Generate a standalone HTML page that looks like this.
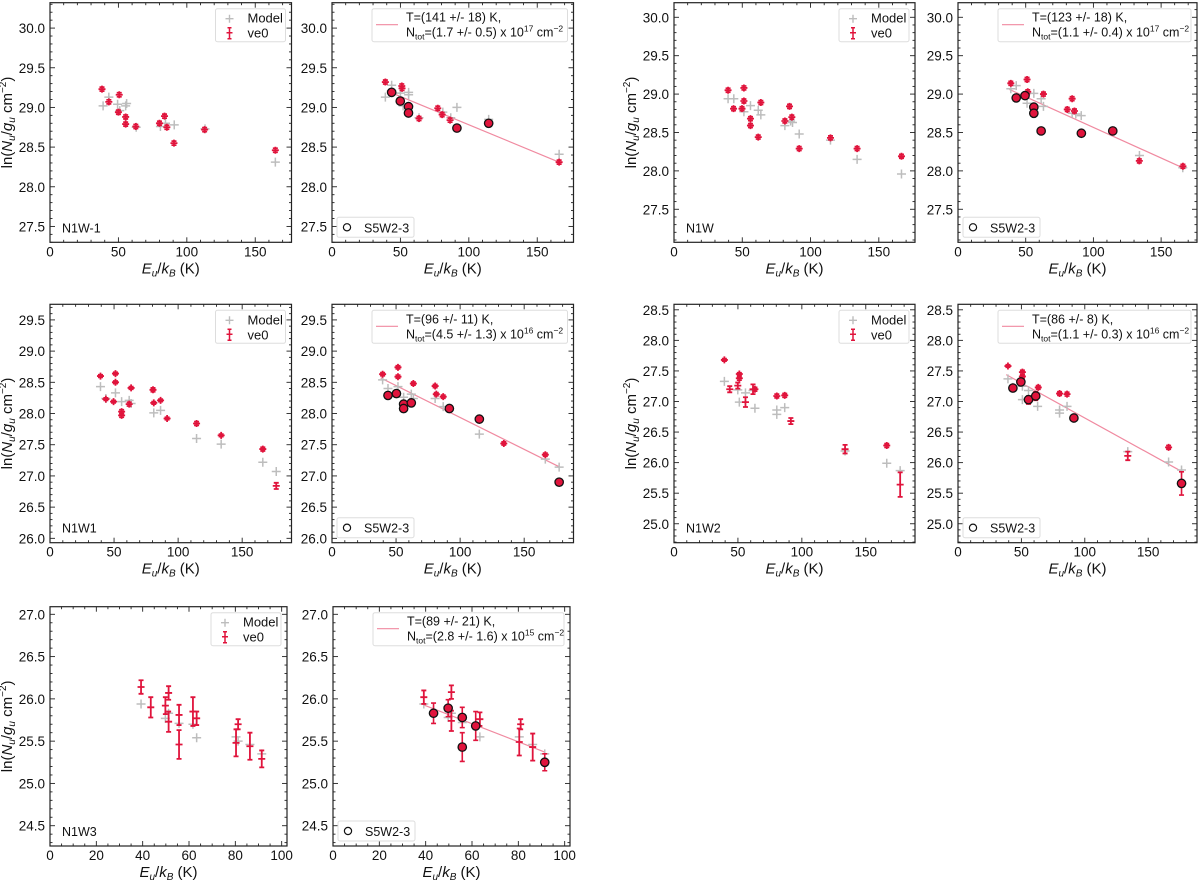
<!DOCTYPE html>
<html><head><meta charset="utf-8"><style>
html,body{margin:0;padding:0;background:#fff;}
svg{display:block;font-family:"Liberation Sans","DejaVu Sans",sans-serif;}
</style></head><body>
<svg id="fig" width="1200" height="880" viewBox="0 0 1200 880" xmlns="http://www.w3.org/2000/svg"></svg>
<script>
// ---------- DATA ----------
const n1w1a_obsE = [38,43,50,50.6,55.3,55.3,62.7,80,83.7,85.4,90.6,113,164.7];
const n1w1a_obsY = [29.23,29.07,28.94,29.16,28.88,28.79,28.76,28.80,28.89,28.75,28.55,28.72,28.46];
const n1w1a_modE = [38.8,43,49.4,51,55.3,56,63,80.7,84.4,90.8,113.3,164.7];
const n1w1a_modY = [29.02,29.13,29.04,28.96,29.02,29.05,28.75,28.76,28.80,28.78,28.73,28.31];
const n1w1b_obsE = [39,51,51.2,63.6,77.3,80.5,86.3,166];
const n1w1b_obsY = [29.32,29.27,29.24,28.86,28.99,28.91,28.84,28.31];
const n1w1b_refE = [43.6,49.9,55.9,55.9,91.3,114.5];
const n1w1b_refY = [29.19,29.08,29.01,28.93,28.74,28.80];
const n1w1b_modE = [39,43.6,50,52,56,56,63.6,81,86.8,91.3,114.5,166];
const n1w1b_modY = [29.13,29.28,29.18,29.02,29.19,29.16,28.87,28.94,28.87,29.00,28.85,28.41];
const n1w1b_fitE = [40,166];
const n1w1b_fitY = [29.21,28.31];
const n1w_obsE = [39.6,43.6,49.8,51.2,51.2,56,56,61.7,63.6,81.2,84.6,86.3,91.7,114.6,134.1,166.6];
const n1w_obsY = [29.05,28.81,28.81,29.08,28.91,28.68,28.59,28.44,28.89,28.65,28.84,28.70,28.29,28.43,28.29,28.19];
const n1w_modE = [39.6,43.8,51.2,56,61.7,63.6,81.2,85.4,86.8,91.7,114.6,134.1,166.6];
const n1w_modY = [28.94,28.94,28.77,28.85,28.79,28.73,28.59,28.65,28.63,28.48,28.40,28.15,27.96];
const n1wb_obsE = [39,51,51.5,63.1,80.7,84.3,86,133.9,166.1];
const n1wb_obsY = [29.14,29.19,29.03,29.00,28.80,28.94,28.78,28.13,28.06];
const n1wb_refE = [43,49.5,56,56,61.4,91.1,114.3];
const n1wb_refY = [28.95,28.98,28.83,28.75,28.52,28.49,28.52];
const n1wb_modE = [39,43,51,56,61.4,63.1,84.3,87,91,134,166];
const n1wb_modY = [29.07,29.11,28.88,29.01,28.94,28.84,28.75,28.74,28.72,28.20,28.04];
const n1wb_fitE = [38,166];
const n1wb_fitY = [29.06,28.04];
const w1a_obsE = [39.4,43.6,49.6,51.1,51.1,55.9,55.9,61.8,63.3,80.4,81,86.3,91.4,114.4,133.6,166.1,176.6];
const w1a_obsY = [28.60,28.23,28.19,28.64,28.50,28.03,27.97,28.15,28.41,28.38,28.17,28.21,27.92,27.84,27.65,27.43,26.84];
const w1a_obsErr = [0.02,0.02,0.02,0.02,0.02,0.03,0.03,0.03,0.02,0.03,0.02,0.02,0.02,0.03,0.02,0.03,0.05];
const w1a_modE = [39.4,43.6,51.1,55.9,61.8,63.3,81,86.3,114.4,133.6,166.1,176.6];
const w1a_modY = [28.43,28.24,28.33,28.19,28.21,28.16,28.01,28.05,27.60,27.51,27.22,27.07];
const w1b_obsE = [39.5,51.5,51.5,63.5,80.5,81.4,86.8,134.1,166.5];
const w1b_obsY = [28.63,28.74,28.59,28.48,28.44,28.31,28.27,27.52,27.34];
const w1b_refE = [43.7,50.3,55.9,55.9,61.9,91.6,115,177.3];
const w1b_refY = [28.29,28.32,28.15,28.08,28.17,28.08,27.91,26.90];
const w1b_modE = [39.5,43.7,51.5,55.9,61.9,63.5,80.5,86.8,115,166.5,177.3];
const w1b_modY = [28.54,28.40,28.43,28.26,28.31,28.24,28.24,28.11,27.67,27.27,27.14];
const w1b_fitE = [38,177];
const w1b_fitY = [28.57,27.15];
const w2a_obsE = [39.4,43.6,49.9,51.1,51.1,55.9,61.8,63.3,80.4,86.6,91.4,133.8,166.4,176.9];
const w2a_obsY = [27.68,27.20,27.26,27.45,27.38,26.99,27.20,27.20,27.09,27.10,26.68,26.22,26.28,25.64];
const w2a_obsErr = [0.02,0.05,0.05,0.02,0.03,0.08,0.08,0.03,0.03,0.03,0.05,0.07,0.03,0.2];
const w2a_modE = [39.4,49.9,51.1,55.9,61.8,63.3,80.4,80.4,86.6,133.8,166.4,176.9];
const w2a_modY = [27.33,27.19,26.99,27.14,27.18,26.89,26.86,26.79,26.90,26.19,25.99,25.87];
const w2b_obsE = [39.4,50.8,50.8,55.6,63.3,80.1,86,133.9,166.1];
const w2b_obsY = [27.58,27.48,27.41,27.02,27.23,27.13,27.12,26.11,26.25];
const w2b_obsErr = [0.02,0.03,0.03,0.06,0.03,0.03,0.03,0.07,0.03];
const w2b_refE = [43.3,49.6,55.6,61.3,91.4,176.3];
const w2b_refY = [27.22,27.32,27.03,27.09,26.73,25.66];
const w2b_refErr = [0.05,0.05,0.06,0.07,0.04,0.19];
const w2b_modE = [39.4,43.3,50.8,50.8,55.6,62.8,80.1,80.1,86,133.9,166.1,176.3];
const w2b_modY = [27.37,27.23,27.25,27.03,27.18,26.92,26.86,26.81,26.92,26.18,26.01,25.88];
const w2b_fitE = [38,176];
const w2b_fitY = [27.44,25.86];
const w3a_obsE = [39.3,43.5,49.8,51.2,51.2,55.7,55.7,61.7,63.3,80.3,81.2,86.3,91.4];
const w3a_obsY = [26.14,25.90,25.92,26.07,25.73,25.81,25.46,25.85,25.77,25.48,25.70,25.44,25.29];
const w3a_obsErr = [0.08,0.12,0.1,0.08,0.12,0.12,0.17,0.17,0.08,0.16,0.06,0.16,0.1];
const w3a_modE = [39.3,49.8,51.2,55.7,61.7,63.3,80.3,81.2,86.3,91.4];
const w3a_modY = [25.94,25.77,25.83,25.71,25.70,25.54,25.55,25.50,25.46,25.35];
const w3b_obsE = [39.2,51.1,51.1,63.4,80.4,81,86.2];
const w3b_obsY = [26.02,26.08,25.74,25.76,25.49,25.70,25.43];
const w3b_obsErr = [0.08,0.08,0.12,0.08,0.16,0.06,0.16];
const w3b_refE = [43.4,49.7,55.8,55.8,61.6,91.4];
const w3b_refY = [25.83,25.89,25.78,25.43,25.68,25.25];
const w3b_refErr = [0.12,0.1,0.12,0.17,0.17,0.1];
const w3b_modE = [39.2,49.7,51.1,55.8,63.4,80.4,86.2,91.4];
const w3b_modY = [25.94,25.78,25.83,25.72,25.55,25.55,25.46,25.35];
const w3b_fitE = [39,91.5];
const w3b_fitY = [25.93,25.37];

const xt1 = [0,50,100,150];
const xt3 = [0,20,40,60,80,100];
const yt1 = [27.5,28.0,28.5,29.0,29.5,30.0];
const yt2a = [26.0,26.5,27.0,27.5,28.0,28.5,29.0,29.5];
const yt2b = [25.0,25.5,26.0,26.5,27.0,27.5,28.0,28.5];
const yt3 = [24.5,25.0,25.5,26.0,26.5,27.0];

// ---------- DRAWING ----------
const NS = 'http://www.w3.org/2000/svg';
const svg = document.getElementById('fig');
const RED = '#e0143c', GRAY = '#bdbdbd', FIT = '#f08aa0';
function mk(tag, attrs, parent){
  const e = document.createElementNS(NS, tag);
  for (const k in attrs) e.setAttribute(k, attrs[k]);
  (parent||svg).appendChild(e);
  return e;
}

function panel(P){
  const g = mk('g', {});
  
  
  const x0=P.r[0], y0=P.r[1], w=P.r[2], h=P.r[3];
  const sx = v => x0 + (v-P.xl[0])/(P.xl[1]-P.xl[0])*w;
  const sy = v => y0 + h - (v-P.yl[0])/(P.yl[1]-P.yl[0])*h;
  const fr = mk('rect', {x:x0,y:y0,width:w,height:h,fill:'none',stroke:'#222','stroke-width':1.2}, g);
  
  
  const tg = mk('g', {stroke:'#222','stroke-width':0.9}, g);
  
  
  for (let v=P.xl[0]; v<=P.xl[1]+1e-9; v+=P.xm){
    const vv = Math.round(v/P.xm)*P.xm; if (vv<P.xl[0]) continue;
    const major = P.xt.some(t=>Math.abs(t-vv)<1e-6);
    const L = major?5:2.5, X=sx(vv);
    mk('line',{x1:X,y1:y0+h,x2:X,y2:y0+h-L},tg);
    mk('line',{x1:X,y1:y0,x2:X,y2:y0+L},tg);
  }
  const ys = Math.ceil(P.yl[0]/0.1-1e-6);
  for (let k=ys; k*0.1<=P.yl[1]+1e-9; k++){
    const vv=k*0.1;
    const major = P.yt.some(t=>Math.abs(t-vv)<1e-6);
    const L = major?5:2.5, Y=sy(vv);
    mk('line',{x1:x0,y1:Y,x2:x0+L,y2:Y},tg);
    mk('line',{x1:x0+w,y1:Y,x2:x0+w-L,y2:Y},tg);
  }
  P.xt.forEach(t=>{
    const e = mk('text',{x:sx(t),y:y0+h+14,'font-size':13.5,'text-anchor':'middle',fill:'#111'},g);
    e.textContent = String(t);
    
    
  });
  P.yt.forEach(t=>{
    const e = mk('text',{x:x0-5,y:sy(t)+5,'font-size':13.5,'text-anchor':'end',fill:'#111'},g);
    e.textContent = t.toFixed(1);
    
    
  });
  const xl = mk('text',{x:x0+w/2,y:y0+h+31,'font-size':15,'text-anchor':'middle',fill:'#111'},g);
  xl.innerHTML = '<tspan font-style="italic">E</tspan><tspan font-style="italic" font-size="10" dy="3">u</tspan><tspan dy="-3">/</tspan><tspan font-style="italic">k</tspan><tspan font-style="italic" font-size="10" dy="3">B</tspan><tspan dy="-3"> (K)</tspan>';
  
  
  if (P.ylab){
    const cx = x0-38, cy = y0+h/2;
    const yl = mk('text',{x:cx,y:cy,'font-size':15,'text-anchor':'middle',fill:'#111',transform:`rotate(-90 ${cx} ${cy})`},g);
    yl.innerHTML = 'ln(<tspan font-style="italic">N</tspan><tspan font-style="italic" font-size="10" dy="3">u</tspan><tspan dy="-3">/</tspan><tspan font-style="italic">g</tspan><tspan font-style="italic" font-size="10" dy="3">u</tspan><tspan dy="-3"> cm</tspan><tspan font-size="10" dy="-6">−2</tspan><tspan dy="6">)</tspan>';
    
    
  }
  if (P.fitE){
    const fl = mk('line',{x1:sx(P.fitE[0]),y1:sy(P.fitY[0]),x2:sx(P.fitE[1]),y2:sy(P.fitY[1]),stroke:FIT,'stroke-width':1.2},g);
    
    
  }
  P.modE.forEach((e,i)=>{
    const X=sx(e), Y=sy(P.modY[i]);
    const p = mk('path',{d:`M${X-4.5},${Y}H${X+4.5}M${X},${Y-4.5}V${Y+4.5}`,stroke:GRAY,'stroke-width':1.5},g);
    
    
  });
  function errbar(X, v, err){
    const y1=sy(v-err), y2=sy(v+err);
    return `M${X},${y1}V${y2}M${X-2.5},${y1}H${X+2.5}M${X-2.5},${y2}H${X+2.5}`;
  }
  P.obsE.forEach((e,i)=>{
    const X=sx(e), v=P.obsY[i], Y=sy(v), err=P.obsErr?P.obsErr[i]:0.025;
    const p = mk('path',{d:`M${X-3.5},${Y}H${X+3.5}M${X},${Y-3.5}V${Y+3.5}`+errbar(X,v,err),stroke:RED,'stroke-width':1.8,fill:'none'},g);
    
    
  });
  if (P.refE) P.refE.forEach((e,i)=>{
    const X=sx(e), v=P.refY[i], Y=sy(v), err=P.refErr?P.refErr[i]:0.025;
    const p = mk('path',{d:errbar(X,v,err),stroke:RED,'stroke-width':1.6,fill:'none'},g);
    
    
    const c = mk('circle',{cx:X,cy:Y,r:4.2,fill:RED,stroke:'#111','stroke-width':1.3},g);
    
    
  });
  if (P.kind==='left'){
    const lx=x0+w-76, ly=y0+6;
    const lg = mk('g',{},g);
    
    
    mk('rect',{x:lx,y:ly,width:70,height:33,rx:2,fill:'#fff',stroke:'#ddd'},lg);
    mk('path',{d:`M${lx+10},${ly+10}H${lx+18}M${lx+14},${ly+6}V${ly+14}`,stroke:GRAY,'stroke-width':1.4},lg);
    const t1 = mk('text',{x:lx+32,y:ly+14,'font-size':13,fill:'#111'},lg); t1.textContent='Model';
    mk('path',{d:`M${lx+11},${ly+24}H${lx+17}M${lx+14},${ly+19}V${ly+30}M${lx+12},${ly+19}H${lx+16}M${lx+12},${ly+30}H${lx+16}`,stroke:RED,'stroke-width':1.5},lg);
    const t2 = mk('text',{x:lx+32,y:ly+29,'font-size':13,fill:'#111'},lg); t2.textContent='ve0';
    const lab = mk('text',{x:x0+12,y:y0+h-10,'font-size':12.5,fill:'#111'},g);
    lab.textContent = P.label;
    
    
  } else {
    const lx=x0+40, ly=y0+6, lw=w-46;
    const lg = mk('g',{},g);
    
    
    mk('rect',{x:lx,y:ly,width:lw,height:33,rx:2,fill:'#fff',stroke:'#ddd'},lg);
    mk('line',{x1:lx+4,y1:ly+16,x2:lx+26,y2:ly+16,stroke:FIT,'stroke-width':1.2},lg);
    const t1 = mk('text',{x:lx+34,y:ly+13,'font-size':12.5,fill:'#111'},lg); t1.textContent=P.t1;
    const t2 = mk('text',{x:lx+34,y:ly+28,'font-size':12.5,fill:'#111'},lg);
    t2.innerHTML = 'N<tspan font-size="8.5" dy="3">tot</tspan><tspan dy="-3">='+P.t2+' x 10</tspan><tspan font-size="8.5" dy="-5">'+P.exp+'</tspan><tspan dy="5"> cm</tspan><tspan font-size="8.5" dy="-5">−2</tspan>';
    const bg = mk('g',{},g);
    
    
    mk('rect',{x:x0+5,y:y0+h-25,width:77,height:20,rx:2,fill:'#fff',stroke:'#ddd'},bg);
    mk('circle',{cx:x0+15,cy:y0+h-15,r:3.6,fill:'none',stroke:'#111','stroke-width':1.2},bg);
    const t3 = mk('text',{x:x0+32,y:y0+h-10,'font-size':12.5,fill:'#111'},bg); t3.textContent='S5W2-3';
  }
}

const R1=[2.7,239.6], R2=[304.3,238.4], R3=[606.7,239.3];
panel({name:'panel-n1w-1-model',kind:'left',label:'N1W-1',ylab:true,r:[50,R1[0],241.5,R1[1]],xl:[0,176.5],yl:[27.30,30.32],xt:xt1,xm:10,yt:yt1,obsE:n1w1a_obsE,obsY:n1w1a_obsY,modE:n1w1a_modE,modY:n1w1a_modY});
panel({name:'panel-n1w-1-fit',kind:'right',r:[332,R1[0],241.5,R1[1]],xl:[0,176.5],yl:[27.30,30.32],xt:xt1,xm:10,yt:yt1,obsE:n1w1b_obsE,obsY:n1w1b_obsY,refE:n1w1b_refE,refY:n1w1b_refY,modE:n1w1b_modE,modY:n1w1b_modY,fitE:n1w1b_fitE,fitY:n1w1b_fitY,t1:'T=(141 +/- 18) K,',t2:'(1.7 +/- 0.5)',exp:'17'});
panel({name:'panel-n1w-model',kind:'left',label:'N1W',ylab:true,r:[674,R1[0],241,R1[1]],xl:[0,176.5],yl:[27.07,30.19],xt:xt1,xm:10,yt:yt1,obsE:n1w_obsE,obsY:n1w_obsY,modE:n1w_modE,modY:n1w_modY});
panel({name:'panel-n1w-fit',kind:'right',r:[958,R1[0],239,R1[1]],xl:[0,176.5],yl:[27.07,30.19],xt:xt1,xm:10,yt:yt1,obsE:n1wb_obsE,obsY:n1wb_obsY,refE:n1wb_refE,refY:n1wb_refY,modE:n1wb_modE,modY:n1wb_modY,fitE:n1wb_fitE,fitY:n1wb_fitY,t1:'T=(123 +/- 18) K,',t2:'(1.1 +/- 0.4)',exp:'17'});
panel({name:'panel-n1w1-model',kind:'left',label:'N1W1',ylab:true,r:[50,R2[0],241.5,R2[1]],xl:[0,188.5],yl:[25.93,29.75],xt:xt1,xm:10,yt:yt2a,obsE:w1a_obsE,obsY:w1a_obsY,obsErr:w1a_obsErr,modE:w1a_modE,modY:w1a_modY});
panel({name:'panel-n1w1-fit',kind:'right',r:[332,R2[0],241.5,R2[1]],xl:[0,188.5],yl:[25.93,29.75],xt:xt1,xm:10,yt:yt2a,obsE:w1b_obsE,obsY:w1b_obsY,refE:w1b_refE,refY:w1b_refY,modE:w1b_modE,modY:w1b_modY,fitE:w1b_fitE,fitY:w1b_fitY,t1:'T=(96 +/- 11) K,',t2:'(4.5 +/- 1.3)',exp:'16'});
panel({name:'panel-n1w2-model',kind:'left',label:'N1W2',ylab:true,r:[674,R2[0],241,R2[1]],xl:[0,188.5],yl:[24.69,28.59],xt:xt1,xm:10,yt:yt2b,obsE:w2a_obsE,obsY:w2a_obsY,obsErr:w2a_obsErr,modE:w2a_modE,modY:w2a_modY});
panel({name:'panel-n1w2-fit',kind:'right',r:[958,R2[0],239,R2[1]],xl:[0,188.5],yl:[24.69,28.59],xt:xt1,xm:10,yt:yt2b,obsE:w2b_obsE,obsY:w2b_obsY,obsErr:w2b_obsErr,refE:w2b_refE,refY:w2b_refY,refErr:w2b_refErr,modE:w2b_modE,modY:w2b_modY,fitE:w2b_fitE,fitY:w2b_fitY,t1:'T=(86 +/- 8) K,',t2:'(1.1 +/- 0.3)',exp:'16'});
panel({name:'panel-n1w3-model',kind:'left',label:'N1W3',ylab:true,r:[50,R3[0],237,R3[1]],xl:[0,102.3],yl:[24.26,27.09],xt:xt3,xm:5,yt:yt3,obsE:w3a_obsE,obsY:w3a_obsY,obsErr:w3a_obsErr,modE:w3a_modE,modY:w3a_modY});
panel({name:'panel-n1w3-fit',kind:'right',r:[333,R3[0],237,R3[1]],xl:[0,102.3],yl:[24.26,27.09],xt:xt3,xm:5,yt:yt3,obsE:w3b_obsE,obsY:w3b_obsY,obsErr:w3b_obsErr,refE:w3b_refE,refY:w3b_refY,refErr:w3b_refErr,modE:w3b_modE,modY:w3b_modY,fitE:w3b_fitE,fitY:w3b_fitY,t1:'T=(89 +/- 21) K,',t2:'(2.8 +/- 1.6)',exp:'15'});
</script>
</body></html>
